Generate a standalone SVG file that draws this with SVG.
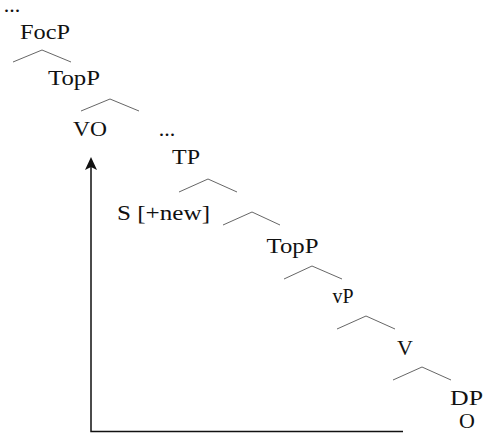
<svg xmlns="http://www.w3.org/2000/svg" width="483" height="438" viewBox="0 0 483 438">
<style>
text{font-family:"Liberation Serif","DejaVu Serif",serif;font-size:22px;fill:#111;text-anchor:middle}
.br{fill:none;stroke:#555;stroke-width:0.9}
.ar{fill:none;stroke:#111;stroke-width:1.5}
</style>
<rect width="483" height="438" fill="#fff"/>
<g id="connectors">
<polyline class="br" points="13,62 42,50 71,62"/>
<polyline class="br" points="81,111 110,99 139,111"/>
<polyline class="br" points="179,192 208,179 237,192"/>
<polyline class="br" points="223,225 252,212 280,225"/>
<polyline class="br" points="284,279 312,266 342,279"/>
<polyline class="br" points="337,329 366,316 395,329"/>
<polyline class="br" points="393,380 422,367 451,380"/>
<path class="ar" d="M403,431.5 H91 V160"/>
<path d="M91,157 L97,170 L91,167 L85,170 Z" fill="#111"/>
</g>
<g id="dots1"><text x="12" y="12">...</text></g>
<g id="focp"><text x="45" y="39" textLength="50" lengthAdjust="spacingAndGlyphs">FocP</text></g>
<g id="topp1"><text x="74" y="85" textLength="52" lengthAdjust="spacingAndGlyphs">TopP</text></g>
<g id="vo"><text x="90" y="136" textLength="34" lengthAdjust="spacingAndGlyphs">VO</text></g>
<g id="dots2"><text x="167" y="136">...</text></g>
<g id="tp"><text x="186" y="164" textLength="28" lengthAdjust="spacingAndGlyphs">TP</text></g>
<g id="s"><text x="163.5" y="220" textLength="93" lengthAdjust="spacingAndGlyphs">S [+new]</text></g>
<g id="topp2"><text x="292.5" y="253" textLength="52" lengthAdjust="spacingAndGlyphs">TopP</text></g>
<g id="vp"><text x="343" y="303" textLength="21" lengthAdjust="spacingAndGlyphs">vP</text></g>
<g id="v"><text x="405" y="355">V</text></g>
<g id="dp"><text x="466.5" y="405" textLength="33" lengthAdjust="spacingAndGlyphs">DP</text></g>
<g id="o"><text x="467" y="428">O</text></g>
</svg>
